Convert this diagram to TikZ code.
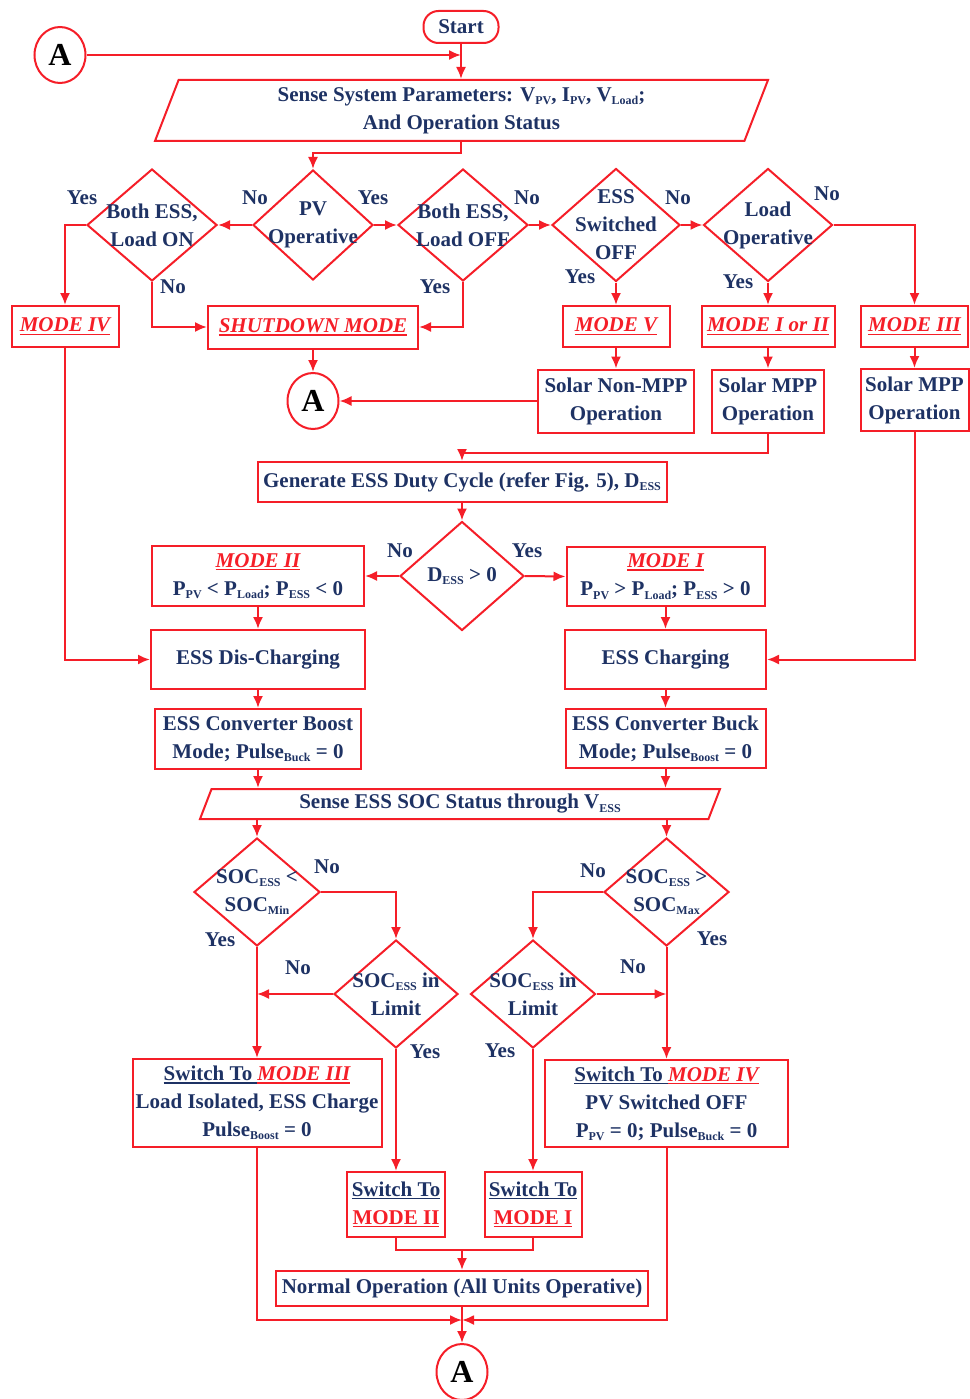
\documentclass[tikz,border=0pt]{standalone}
\usepackage{fontspec}
\setmainfont{Liberation Serif}
\usepackage{tikz}
\usetikzlibrary{shapes,arrows,arrows.meta,positioning}
\definecolor{linered}{RGB}{245,30,40}
\definecolor{navy}{RGB}{30,50,100}
\tikzstyle{block} = [draw=linered, rectangle, line width=2pt, text=navy, align=center, inner sep=1pt, font=\bfseries\fontsize{21}{28}\selectfont]
\tikzstyle{term} = [block, rounded corners=15pt]
\tikzstyle{decision} = [draw=linered, diamond, line width=2pt, inner sep=0pt]
\tikzstyle{dtext} = [text=navy, align=center, inner sep=0pt, font=\bfseries\fontsize{21}{28}\selectfont]
\tikzstyle{io} = [draw=linered, trapezium, trapezium stretches body, line width=2pt, text=navy, align=center, inner sep=1pt, font=\bfseries\fontsize{21}{28}\selectfont]
\tikzstyle{conn} = [draw=linered, ellipse, line width=2pt, text=black, minimum width=51pt, minimum height=56pt, inner sep=0pt, font=\bfseries\fontsize{32}{32}\selectfont]
\tikzstyle{lbl} = [text=navy, inner sep=0pt, font=\bfseries\fontsize{21}{28}\selectfont]
\newcommand{\subtxt}[1]{\raisebox{-0.35ex}{\fontsize{12}{12}\selectfont #1}}
\newcommand{\undl}[1]{\vtop{\hbox{#1}\kern1.5pt\hrule height 1.4pt}}
\newcommand{\modetxt}[1]{\textcolor{linered}{\undl{\itshape #1}}}

\begin{document}
\begin{tikzpicture}[x=1pt, y=-1pt, >={Latex[length=12pt,width=10pt]}, line width=2pt, color=linered]
    \useasboundingbox (0,0) rectangle (969,1399);
    \node [term, minimum width=75pt, minimum height=32pt] (start) at (461,27) {Start};
    \node [conn] (aone) at (60,55) {A};
    \node [io, trapezium left angle=64, trapezium right angle=116, minimum width=613pt, minimum height=61pt] (sense) at (461.5,110.5)
        {Sense System Parameters: V\subtxt{PV}, I\subtxt{PV}, V\subtxt{Load};\\And Operation Status};

    % first row of decisions
    \node [decision, minimum width=120pt, minimum height=110pt, label={[dtext]center:{PV\\Operative}}] (pv) at (313,225) {};
    \node [decision, minimum width=130pt, minimum height=112pt, left of=pv, node distance=161pt, label={[dtext]center:{Both ESS,\\Load ON}}] (bothon) {};
    \node [decision, minimum width=130pt, minimum height=112pt, right of=pv, node distance=150pt, label={[dtext]center:{Both ESS,\\Load OFF}}] (bothoff) {};
    \node [decision, minimum width=128pt, minimum height=113pt, right of=bothoff, node distance=153pt, label={[dtext]center:{ESS\\Switched\\OFF}}] (esssw) {};
    \node [decision, minimum width=129pt, minimum height=113pt, right of=esssw, node distance=152pt, label={[dtext]center:{Load\\Operative}}] (loadop) {};

    \node [block, minimum width=107pt, minimum height=41pt] (modeiv) at (65,326.5) {\modetxt{MODE IV}};
    \node [block, minimum width=210pt, minimum height=43pt] (shut) at (313,327) {\modetxt{SHUTDOWN MODE}};
    \node [block, minimum width=107pt, minimum height=41pt] (modev) at (616,326.5) {\modetxt{MODE V}};
    \node [block, minimum width=133pt, minimum height=41pt] (modeioii) at (768,326.5) {\modetxt{MODE I or II}};
    \node [block, minimum width=107pt, minimum height=41pt] (modeiii) at (914.5,326.5) {\modetxt{MODE III}};

    \node [conn] (atwo) at (313,401) {A};
    \node [block, minimum width=156pt, minimum height=63pt] (nonmpp) at (616,401) {Solar Non-MPP\\Operation};
    \node [block, minimum width=112pt, minimum height=63pt] (mppa) at (768,401) {Solar MPP\\Operation};
    \node [block, minimum width=108pt, minimum height=62pt] (mppb) at (914.5,400) {Solar MPP\\Operation};

    \node [block, minimum width=409pt, minimum height=40pt] (gen) at (462,482) {Generate ESS Duty Cycle (refer Fig. 5), D\subtxt{ESS}};
    \node [decision, minimum width=124pt, minimum height=109pt, label={[dtext]center:{D\subtxt{ESS} > 0}}] (dess) at (462,576) {};
    \node [block, minimum width=212pt, minimum height=60pt] (modeii) at (258,576) {\modetxt{MODE II}\\P\subtxt{PV} < P\subtxt{Load}; P\subtxt{ESS} < 0};
    \node [block, minimum width=198pt, minimum height=59pt] (modei) at (665.5,576.5) {\modetxt{MODE I}\\P\subtxt{PV} > P\subtxt{Load}; P\subtxt{ESS} > 0};
    \node [block, minimum width=214pt, minimum height=59pt] (dis) at (258,659.5) {ESS Dis-Charging};
    \node [block, minimum width=201pt, minimum height=59pt] (chg) at (665.5,659.5) {ESS Charging};
    \node [block, minimum width=206pt, minimum height=60pt] (boost) at (258,739) {ESS Converter Boost\\Mode; Pulse\subtxt{Buck} = 0};
    \node [block, minimum width=200pt, minimum height=59pt] (buck) at (665.5,738.5) {ESS Converter Buck\\Mode; Pulse\subtxt{Boost} = 0};
    \node [io, trapezium left angle=59, trapezium right angle=121, minimum width=520pt, minimum height=30pt, inner sep=0pt] (sensess) at (460,804)
        {Sense ESS SOC Status through V\subtxt{ESS}};

    % SOC checks
    \node [decision, minimum width=126pt, minimum height=108pt, label={[dtext]center:{SOC\subtxt{ESS} <\\SOC\subtxt{Min}}}] (socmin) at (257,892) {};
    \node [decision, minimum width=125pt, minimum height=108pt, label={[dtext]center:{SOC\subtxt{ESS} >\\SOC\subtxt{Max}}}] (socmax) at (666.5,892) {};
    \node [decision, minimum width=124pt, minimum height=108pt, label={[dtext]center:{SOC\subtxt{ESS} in\\Limit}}] (inlimL) at (396,994) {};
    \node [decision, minimum width=125pt, minimum height=108pt, label={[dtext]center:{SOC\subtxt{ESS} in\\Limit}}] (inlimR) at (533,994) {};

    \node [block, minimum width=249pt, minimum height=88pt] (swiii) at (257,1103) {\undl{Switch To }\modetxt{MODE III}\\Load Isolated, ESS Charge\\Pulse\subtxt{Boost} = 0};
    \node [block, minimum width=243pt, minimum height=87pt] (swiv) at (666.5,1103.5) {\undl{Switch To }\modetxt{MODE IV}\\PV Switched OFF\\P\subtxt{PV} = 0; Pulse\subtxt{Buck} = 0};
    \node [block, minimum width=98pt, minimum height=65pt] (swii) at (396,1204.5) {\undl{Switch To}\\\textcolor{linered}{\undl{MODE II}}};
    \node [block, minimum width=97pt, minimum height=65pt] (swi) at (533,1204.5) {\undl{Switch To}\\\textcolor{linered}{\undl{MODE I}}};
    \node [block, minimum width=372pt, minimum height=35pt] (normal) at (462,1288.5) {Normal Operation (All Units Operative)};
    \node [conn] (athree) at (462,1372) {A};

    % Yes / No
    \node [lbl] (y1) at (82,198) {Yes};
    \node [lbl] (n1) at (255,198) {No};
    \node [lbl] (y2) at (373,198) {Yes};
    \node [lbl] (n2) at (173,287) {No};
    \node [lbl] (y3) at (435,287) {Yes};
    \node [lbl] (n3) at (527,198) {No};
    \node [lbl] (n4) at (678,198) {No};
    \node [lbl] (y4) at (580,277) {Yes};
    \node [lbl] (n5) at (827,194) {No};
    \node [lbl] (y5) at (738,282) {Yes};
    \node [lbl] (n6) at (400,551) {No};
    \node [lbl] (y6) at (527,551) {Yes};
    \node [lbl] (n7) at (327,867) {No};
    \node [lbl] (y7) at (220,940) {Yes};
    \node [lbl] (n8) at (298,968) {No};
    \node [lbl] (y8) at (425,1052) {Yes};
    \node [lbl] (n9) at (593,871) {No};
    \node [lbl] (y9) at (712,939) {Yes};
    \node [lbl] (n10) at (633,967) {No};
    \node [lbl] (y10) at (500,1051) {Yes};

    % connectors
    \draw [->] (aone.east) -- (start.south |- aone.east);
    \draw [->] (start.south) -- (start.south |- sense.north);
    \draw [->] (start.south |- sense.south) -- ++(0,11) -| (pv.north);
    \draw [->] (pv.west) -- (bothon.east);
    \draw [->] (pv.east) -- (bothoff.west);
    \draw [->] (bothoff.east) -- (esssw.west);
    \draw [->] (esssw.east) -- (loadop.west);
    \draw [->] (bothon.west) -| (modeiv.north);
    \draw [->] (bothon.south) |- (shut.west);
    \draw [->] (bothoff.south) |- (shut.east);
    \draw [->] (esssw.south) -- (modev.north);
    \draw [->] (loadop.south) -- (modeioii.north);
    \draw [->] (loadop.east) -| (modeiii.north);
    \draw [->] (shut.south) -- (atwo.north);
    \draw [->] (modev.south) -- (nonmpp.north);
    \draw [->] (modeioii.south) -- (mppa.north);
    \draw [->] (modeiii.south) -- (mppb.north);
    \draw [->] (nonmpp.west) -- (atwo.east);
    \draw [->] (mppa.south) -- ++(0,19) -| (gen.north);
    \draw [->] (gen.south) -- (dess.north);
    \draw [->] (dess.west) -- (modeii.east);
    \draw [->] (dess.east) -- (modei.west);
    \draw [->] (modeiv.south) |- (dis.west);
    \draw [->] (mppb.south) |- (chg.east);
    \draw [->] (modeii.south) -- (dis.north);
    \draw [->] (modei.south) -- (chg.north);
    \draw [->] (dis.south) -- (boost.north);
    \draw [->] (chg.south) -- (buck.north);
    \draw [->] (boost.south) -- (boost.south |- sensess.north);
    \draw [->] (buck.south) -- (buck.south |- sensess.north);
    \draw [->] (socmin.north |- sensess.south) -- (socmin.north);
    \draw [->] (socmax.north |- sensess.south) -- (socmax.north);
    \draw [->] (socmin.east) -| (inlimL.north);
    \draw [->] (socmax.west) -| (inlimR.north);
    \draw [->] (socmin.south) -- (swiii.north);
    \draw [->] (socmax.south) -- (swiv.north);
    \draw [->] (inlimL.west) -- (socmin.south |- inlimL.west);
    \draw [->] (inlimR.east) -- (socmax.south |- inlimR.east);
    \draw [->] (inlimL.south) -- (swii.north);
    \draw [->] (inlimR.south) -- (swi.north);
    \coordinate (join) at (462,1250);
    \coordinate (meet) at (462,1320);
    \draw (swii.south) |- (join) -| (swi.south);
    \draw [->] (join) -- (normal.north);
    \draw [->] (normal.south) -- (athree.north);
    \draw [->] (swiii.south) |- (meet);
    \draw [->] (swiv.south) |- (meet);
\end{tikzpicture}
\end{document}
